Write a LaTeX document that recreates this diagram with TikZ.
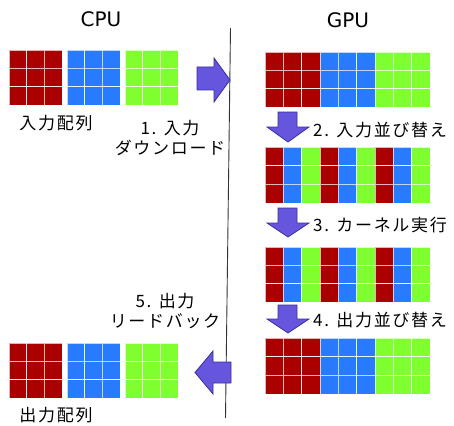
\documentclass[tikz,border=0pt]{standalone}
\usepackage{fontspec}
\newfontfamily\jpfont[LetterSpace=10]{Noto Sans CJK JP}
\newfontfamily\latinfont{DejaVu Sans}

\definecolor{cellred}{RGB}{170,0,0}
\definecolor{cellblue}{RGB}{40,122,255}
\definecolor{cellgreen}{RGB}{128,255,48}
\definecolor{arrowfill}{RGB}{102,85,221}
\definecolor{arrowedge}{RGB}{58,46,160}

\tikzset{
  cell/.style={draw=white, draw opacity=0.7, line width=0.9pt},
  blockarrow/.style={fill=arrowfill, draw=arrowedge, line width=0.8pt, line join=miter},
  heading/.style={font=\latinfont\fontsize{20}{24}\selectfont, inner sep=0pt},
  caption/.style={font=\jpfont\fontsize{17}{20}\selectfont, inner sep=0pt, align=center},
  divider/.style={draw=black!80, line width=0.9pt},
}

% 3-row block of cells; #1,#2 top-left corner, #3,#4 cell size, #5 colour of each column
\newcommand{\cellblock}[5]{%
  \foreach \col [count=\i from 0] in {#5}{%
    \foreach \r in {0,1,2}{%
      \path[cell, fill=\col] ({#1+\i*#3},{#2+\r*#4}) rectangle ++(#3,#4);
    }%
  }%
}

\begin{document}
\begin{tikzpicture}[x=1pt, y=-1pt]
  \useasboundingbox (0,0) rectangle (454,425);

  % headings
  \node[heading] (cpu) at (101,19) {CPU};
  \node[heading] (gpu) at (348,20) {GPU};

  % CPU / GPU divider
  \coordinate (divtop) at (230.5,28);
  \coordinate (divbot) at (225.5,418);
  \draw[divider] (divtop) -- (divbot);

  % CPU input arrays
  \cellblock{9}{50}{17.67}{18.33}{cellred,cellred,cellred}
  \cellblock{67}{50}{17.67}{18.33}{cellblue,cellblue,cellblue}
  \cellblock{125}{50}{17.67}{18.33}{cellgreen,cellgreen,cellgreen}

  % CPU output arrays
  \cellblock{9}{343}{17.67}{18.33}{cellred,cellred,cellred}
  \cellblock{67}{343}{17.67}{18.33}{cellblue,cellblue,cellblue}
  \cellblock{125}{343}{17.67}{18.33}{cellgreen,cellgreen,cellgreen}

  % GPU arrays
  \cellblock{265}{52}{18.33}{18.33}{cellred,cellred,cellred,cellblue,cellblue,cellblue,cellgreen,cellgreen,cellgreen}
  \cellblock{265}{147}{18.33}{18.67}{cellred,cellblue,cellgreen,cellred,cellblue,cellgreen,cellred,cellblue,cellgreen}
  \cellblock{265}{247}{18.33}{18.33}{cellred,cellblue,cellgreen,cellred,cellblue,cellgreen,cellred,cellblue,cellgreen}
  \cellblock{265}{338}{18.33}{18.67}{cellred,cellred,cellred,cellblue,cellblue,cellblue,cellgreen,cellgreen,cellgreen}

  % step arrows
  \draw[blockarrow] (197,67) -- (214,67) -- (214,58) -- (230,80) -- (214,102) -- (214,90) -- (197,90) -- cycle;
  \draw[blockarrow] (231,362) -- (213,362) -- (213,351) -- (195,372.5) -- (213,394) -- (213,383) -- (231,383) -- cycle;
  \foreach \t/\b/\e in {112/127/142, 208/223/237, 305/319/333}{
    \draw[blockarrow] (278,\t) -- (297,\t) -- (297,\b) -- (309,\b) -- (288,\e) -- (267,\b) -- (278,\b) -- cycle;
  }

  % captions
  \node[caption] (inarr) at (56,123) {入力配列};
  \node[caption] (outarr) at (56,415) {出力配列};
  \node[caption] (step1) at (170,138) {1. 入力\\ダウンロード};
  \node[caption] (step5) at (165,311) {5. 出力\\リードバック};
  \node[caption, anchor=west] (step2) at (313,130) {2. 入力並び替え};
  \node[caption, anchor=west] (step3) at (313,225) {3. カーネル実行};
  \node[caption, anchor=west] (step4) at (313,320) {4. 出力並び替え};
\end{tikzpicture}
\end{document}
